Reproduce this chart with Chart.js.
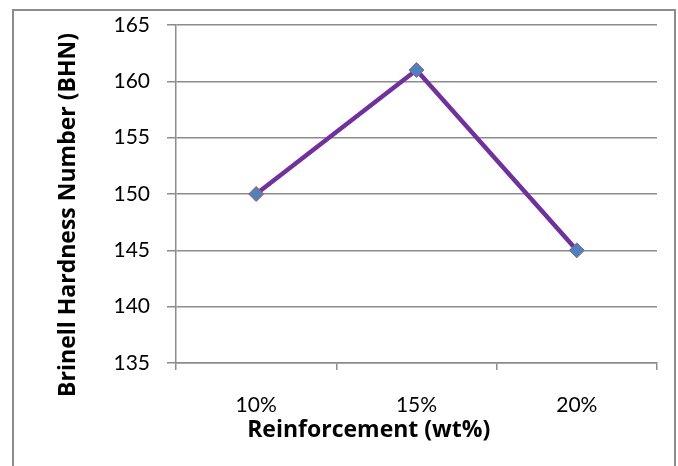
<!DOCTYPE html>
<html>
<head>
<meta charset="utf-8">
<script src="https://cdn.jsdelivr.net/npm/chart.js@4"></script>
<style>
  body { margin: 0; background: #fff; }
  #frame { position: absolute; left: 12px; top: 9px; width: 660px; height: 470px; border: 2px solid #8c8c8c; }
  #wrap { position: absolute; left: 0; top: 0; width: 678px; height: 466px; }
</style>
</head>
<body>
<div id="frame"></div>
<div id="wrap"><canvas id="data-chart" width="678" height="466"></canvas></div>
<script>
var categories = ["10%", "15%", "20%"];
var hardness = [150, 161, 145];
var yTicks = [135, 140, 145, 150, 155, 160, 165];

var ctx = document.getElementById("data-chart");
var lineChart = new Chart(ctx, {
    type: 'line',
    data: {
        labels: categories,
        datasets: [{
            label: "BHN",
            data: hardness,
            borderColor: "#7030A0",
            borderWidth: 4.5,
            pointStyle: 'rectRot',
            pointRadius: 7.5,
            pointBackgroundColor: "#4F81BD",
            pointBorderColor: ["#C0504D", "#8064A2", "#8064A2"],
            pointBorderWidth: 1,
            tension: 0
        }]
    },
    options: {
        responsive: false,
        animation: false,
        layout: { padding: { left: 0, top: 25, right: 21, bottom: 0 } },
        plugins: { legend: { display: false }, tooltip: { enabled: false } },
        scales: {
            x: {
                offset: true,
                grid: { offset: true, drawOnChartArea: false, tickLength: 7, color: "#8c8c8c", lineWidth: 1.5 },
                border: { color: "#8c8c8c", width: 1.5 },
                ticks: { color: "#000", padding: 23, font: { family: "Lato", size: 21 } },
                // trailing spaces push the title left, as in the original
                title: { display: true, text: "Reinforcement (wt%)                ", color: "#000", font: { family: "Open Sans", size: 23, weight: "bold" }, padding: { top: 0, bottom: 22 } },
                afterFit: function(s) { s.height = 103; }
            },
            y: {
                min: yTicks[0],
                max: yTicks[yTicks.length - 1],
                afterBuildTicks: function(s) { s.ticks = yTicks.map(function(v) { return { value: v }; }); },
                grid: { tickLength: 9, color: "#8c8c8c", lineWidth: 1.5 },
                border: { color: "#8c8c8c", width: 1.5 },
                ticks: { color: "#000", padding: 17, font: { family: "Lato", size: 21 } },
                title: { display: true, text: "Brinell Hardness Number (BHN)       ", color: "#000", font: { family: "Open Sans", size: 23, weight: "bold" }, padding: { top: 55, bottom: 0 } },
                afterFit: function(s) { s.width = 176; s.paddingTop = 0; s.paddingBottom = 0; }
            }
        }
    }
});
</script>
</body>
</html>
